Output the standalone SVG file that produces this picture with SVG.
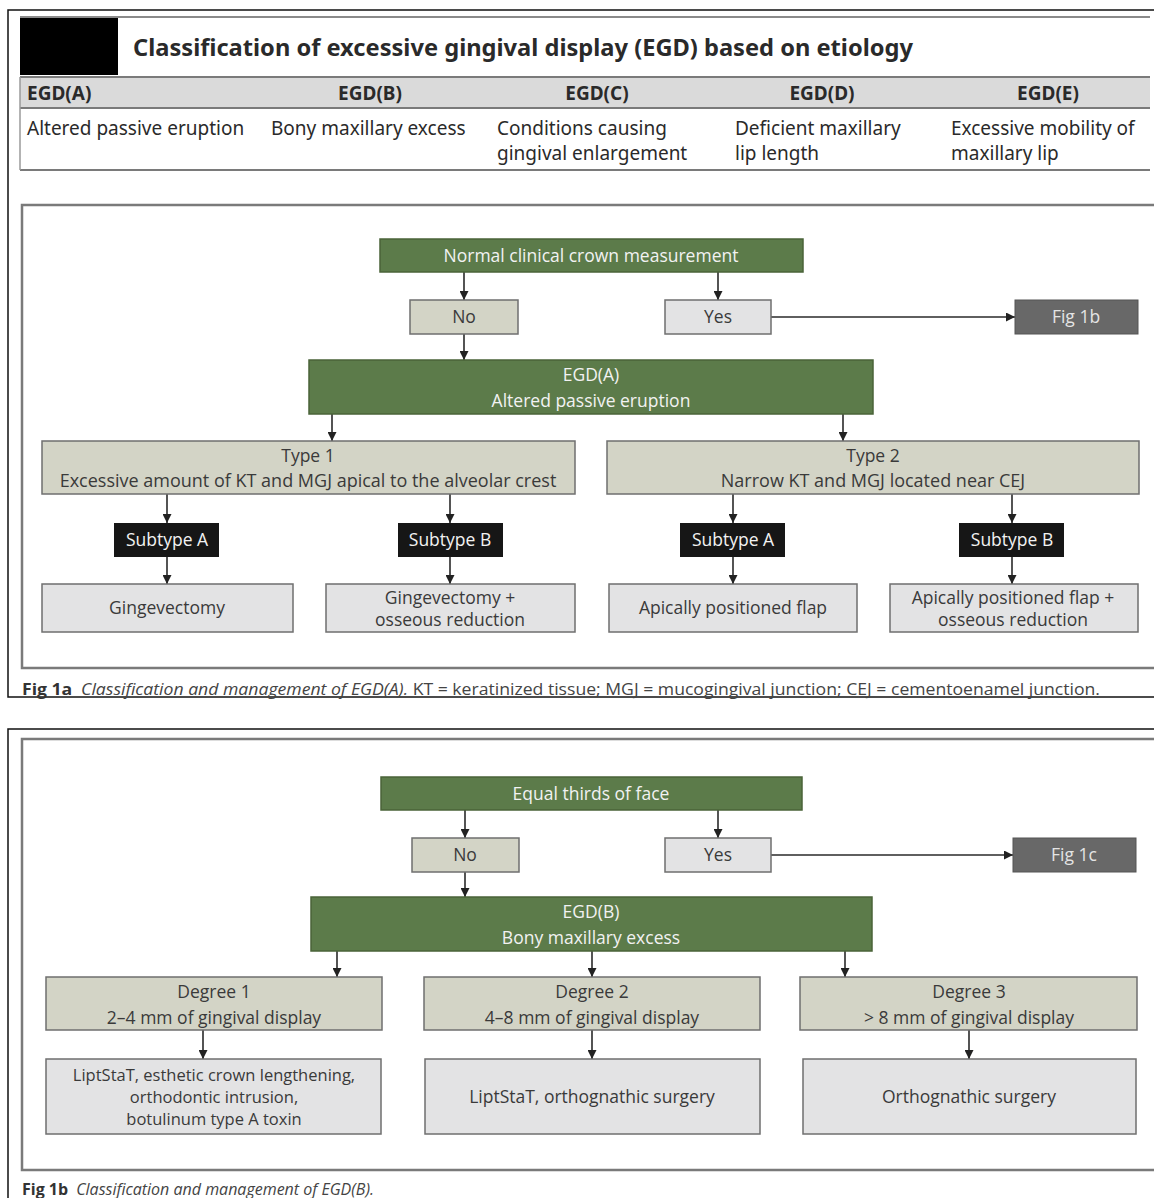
<svg xmlns="http://www.w3.org/2000/svg" width="1154" height="1198" viewBox="0 0 1154 1198">
<defs>
<marker id="arr" markerUnits="userSpaceOnUse" markerWidth="9" markerHeight="9" refX="9" refY="4.5" orient="auto">
<path d="M0,0 L9,4.5 L0,9 z" fill="#222"/>
</marker>
<style>
.green{fill:#5c7b4a;stroke:#4a6339;stroke-width:1.5}
.tan{fill:#d3d4c6;stroke:#6f6f6f;stroke-width:1.5}
.lite{fill:#e3e3e4;stroke:#6f6f6f;stroke-width:1.5}
.dark{fill:#686868;stroke:#555;stroke-width:1}
.blk{fill:#161616}
.t{font-family:"Open Sans",Lato,sans-serif;font-size:17.5px;text-anchor:middle}
.t18{font-size:18px}
.t3{font-size:16.5px}
.tw{fill:#f2f2f2}
.tg{fill:#3a3a3a}
.tf{fill:#e4e4e4}
.conn line{stroke:#2a2a2a;stroke-width:1.6;marker-end:url(#arr)}
.frame{fill:none;stroke:#111;stroke-width:1.5}
.inner{fill:none;stroke:#7a7a7a;stroke-width:2.5}
.tb{font-family:"Noto Sans","Open Sans",sans-serif;fill:#2a2a2a}
.cap{font-family:"Open Sans",sans-serif;font-size:16px;fill:#444}
</style>
</defs>
<rect width="1154" height="1198" fill="#fff"/>

<!-- Outer frames -->
<path class="frame" d="M1154,10 H8 V697 H1154"/>
<path class="frame" d="M1154,729 H8 V1198"/>

<!-- Table -->
<g id="table">
<line x1="20" y1="17" x2="1150" y2="17" stroke="#8a8a8a" stroke-width="2"/>
<rect x="20" y="18" width="98" height="57" fill="#000"/>
<text class="tb" x="133" y="56" font-size="23" font-weight="bold" fill="#222" textLength="780" lengthAdjust="spacingAndGlyphs">Classification of excessive gingival display (EGD) based on etiology</text>
<rect x="20" y="77" width="1130" height="31" fill="#dadada"/>
<line x1="20" y1="77" x2="1150" y2="77" stroke="#7a7a7a" stroke-width="2"/>
<line x1="20" y1="108" x2="1150" y2="108" stroke="#7a7a7a" stroke-width="2"/>
<line x1="20" y1="170" x2="1150" y2="170" stroke="#7a7a7a" stroke-width="2"/>
<line x1="20" y1="77" x2="20" y2="170" stroke="#9a9a9a" stroke-width="1.5"/>
<g>
<text class="tb" x="27" y="100" font-size="19" font-weight="bold">EGD(A)</text>
<text class="tb" x="370" y="100" font-size="19" font-weight="bold" text-anchor="middle">EGD(B)</text>
<text class="tb" x="597" y="100" font-size="19" font-weight="bold" text-anchor="middle">EGD(C)</text>
<text class="tb" x="822" y="100" font-size="19" font-weight="bold" text-anchor="middle">EGD(D)</text>
<text class="tb" x="1048" y="100" font-size="19" font-weight="bold" text-anchor="middle">EGD(E)</text>
</g>
<g>
<text class="tb" x="27" y="135" font-size="19">Altered passive eruption</text>
<text class="tb" x="271" y="135" font-size="19">Bony maxillary excess</text>
<text class="tb" x="497" y="135" font-size="19">Conditions causing</text>
<text class="tb" x="497" y="160" font-size="19">gingival enlargement</text>
<text class="tb" x="735" y="135" font-size="19">Deficient maxillary</text>
<text class="tb" x="735" y="160" font-size="19">lip length</text>
<text class="tb" x="951" y="135" font-size="19">Excessive mobility of</text>
<text class="tb" x="951" y="160" font-size="19">maxillary lip</text>
</g>
</g>

<!-- Figure 1a -->
<path class="inner" d="M1154,205 H22 V668 H1154"/>

<g class="conn" id="connectors-1a">
<line x1="464" y1="272" x2="464" y2="300"/>
<line x1="718" y1="272" x2="718" y2="300"/>
<line x1="771" y1="317" x2="1015" y2="317"/>
<line x1="464" y1="334" x2="464" y2="360"/>
<line x1="332" y1="414" x2="332" y2="441"/>
<line x1="843" y1="414" x2="843" y2="441"/>
<line x1="167" y1="494" x2="167" y2="523"/>
<line x1="450" y1="494" x2="450" y2="523"/>
<line x1="733" y1="494" x2="733" y2="523"/>
<line x1="1012" y1="494" x2="1012" y2="523"/>
<line x1="167" y1="557" x2="167" y2="584"/>
<line x1="450" y1="557" x2="450" y2="584"/>
<line x1="733" y1="557" x2="733" y2="584"/>
<line x1="1012" y1="557" x2="1012" y2="584"/>
</g>

<g id="n-crown"><rect class="green" x="380" y="239" width="423" height="33"/><text class="t tw" x="591" y="262">Normal clinical crown measurement</text></g>
<g id="n-no1"><rect class="tan" x="410" y="300" width="108" height="34"/><text class="t tg" x="464" y="323">No</text></g>
<g id="n-yes1"><rect class="lite" x="665" y="300" width="106" height="34"/><text class="t tg" x="718" y="323">Yes</text></g>
<g id="n-fig1b"><rect class="dark" x="1015" y="300" width="123" height="34"/><text class="t tf" x="1076" y="323">Fig 1b</text></g>
<g id="n-egda"><rect class="green" x="309" y="360" width="564" height="54"/><text class="t tw" x="591" y="381">EGD(A)</text><text class="t tw" x="591" y="407">Altered passive eruption</text></g>
<g id="n-type1"><rect class="tan" x="42" y="441" width="533" height="53"/><text class="t tg" x="308" y="462">Type 1</text><text class="t t18 tg" x="308" y="487">Excessive amount of KT and MGJ apical to the alveolar crest</text></g>
<g id="n-type2"><rect class="tan" x="607" y="441" width="532" height="53"/><text class="t tg" x="873" y="462">Type 2</text><text class="t t18 tg" x="873" y="487">Narrow KT and MGJ located near CEJ</text></g>
<g id="n-sub1a"><rect class="blk" x="114" y="523" width="105" height="34"/><text class="t tw" x="167" y="546">Subtype A</text></g>
<g id="n-sub1b"><rect class="blk" x="398" y="523" width="105" height="34"/><text class="t tw" x="450" y="546">Subtype B</text></g>
<g id="n-sub2a"><rect class="blk" x="680" y="523" width="105" height="34"/><text class="t tw" x="733" y="546">Subtype A</text></g>
<g id="n-sub2b"><rect class="blk" x="959" y="523" width="105" height="34"/><text class="t tw" x="1012" y="546">Subtype B</text></g>
<g id="n-ging"><rect class="lite" x="42" y="584" width="251" height="48"/><text class="t tg" x="167" y="614">Gingevectomy</text></g>
<g id="n-gingoss"><rect class="lite" x="326" y="584" width="249" height="48"/><text class="t tg" x="450" y="604">Gingevectomy +</text><text class="t tg" x="450" y="626">osseous reduction</text></g>
<g id="n-apf"><rect class="lite" x="609" y="584" width="248" height="48"/><text class="t tg" x="733" y="614">Apically positioned flap</text></g>
<g id="n-apfoss"><rect class="lite" x="890" y="584" width="248" height="48"/><text class="t tg" x="1013" y="604">Apically positioned flap +</text><text class="t tg" x="1013" y="626">osseous reduction</text></g>

<text class="cap" x="22" y="695" textLength="1078" lengthAdjust="spacingAndGlyphs"><tspan font-weight="bold" fill="#333">Fig 1a</tspan><tspan font-style="italic" dx="8">Classification and management of EGD(A).</tspan><tspan> KT = keratinized tissue; MGJ = mucogingival junction; CEJ = cementoenamel junction.</tspan></text>

<!-- Figure 1b -->
<path class="inner" d="M1154,739 H22 V1170 H1154"/>

<g class="conn" id="connectors-1b">
<line x1="465" y1="810" x2="465" y2="838"/>
<line x1="718" y1="810" x2="718" y2="838"/>
<line x1="771" y1="855" x2="1013" y2="855"/>
<line x1="465" y1="872" x2="465" y2="897"/>
<line x1="337" y1="951" x2="337" y2="977"/>
<line x1="592" y1="951" x2="592" y2="977"/>
<line x1="845" y1="951" x2="845" y2="977"/>
<line x1="203" y1="1030" x2="203" y2="1059"/>
<line x1="592" y1="1030" x2="592" y2="1059"/>
<line x1="969" y1="1030" x2="969" y2="1059"/>
</g>

<g id="n-thirds"><rect class="green" x="381" y="777" width="421" height="33"/><text class="t tw" x="591" y="800">Equal thirds of face</text></g>
<g id="n-no2"><rect class="tan" x="412" y="838" width="107" height="34"/><text class="t tg" x="465" y="861">No</text></g>
<g id="n-yes2"><rect class="lite" x="665" y="838" width="106" height="34"/><text class="t tg" x="718" y="861">Yes</text></g>
<g id="n-fig1c"><rect class="dark" x="1013" y="838" width="123" height="34"/><text class="t tf" x="1074" y="861">Fig 1c</text></g>
<g id="n-egdb"><rect class="green" x="311" y="897" width="561" height="54"/><text class="t tw" x="591" y="918">EGD(B)</text><text class="t tw" x="591" y="944">Bony maxillary excess</text></g>
<g id="n-deg1"><rect class="tan" x="46" y="977" width="336" height="53"/><text class="t tg" x="214" y="998">Degree 1</text><text class="t tg" x="214" y="1024">2–4 mm of gingival display</text></g>
<g id="n-deg2"><rect class="tan" x="424" y="977" width="336" height="53"/><text class="t tg" x="592" y="998">Degree 2</text><text class="t tg" x="592" y="1024">4–8 mm of gingival display</text></g>
<g id="n-deg3"><rect class="tan" x="800" y="977" width="337" height="53"/><text class="t tg" x="969" y="998">Degree 3</text><text class="t tg" x="969" y="1024">&gt; 8 mm of gingival display</text></g>
<g id="n-res1"><rect class="lite" x="46" y="1059" width="335" height="75"/><text class="t t3 tg" x="214" y="1081">LiptStaT, esthetic crown lengthening,</text><text class="t t3 tg" x="214" y="1103">orthodontic intrusion,</text><text class="t t3 tg" x="214" y="1125">botulinum type A toxin</text></g>
<g id="n-res2"><rect class="lite" x="425" y="1059" width="335" height="75"/><text class="t tg" x="592" y="1103">LiptStaT, orthognathic surgery</text></g>
<g id="n-res3"><rect class="lite" x="803" y="1059" width="333" height="75"/><text class="t tg" x="969" y="1103">Orthognathic surgery</text></g>

<text class="cap" x="22" y="1195"><tspan font-weight="bold" fill="#333">Fig 1b</tspan><tspan font-style="italic" dx="8">Classification and management of EGD(B).</tspan></text>
</svg>
